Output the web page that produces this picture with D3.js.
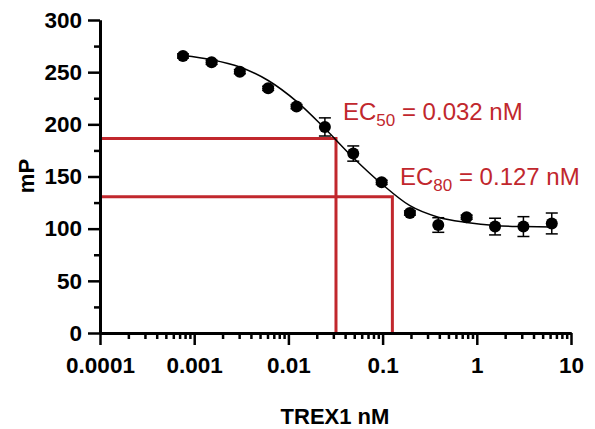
<!DOCTYPE html>
<html>
<head>
<meta charset="utf-8">
<script src="https://cdn.jsdelivr.net/npm/d3@7"></script>
<style>
  body { margin: 0; background: #fff; }
  svg { display: block; font-family: Arial, "Liberation Sans", Helvetica, sans-serif; }
</style>
</head>
<body>
<div id="chart"></div>
<script>
// Concentraciones (nM), diluciones 1:2
const conc = [0.00076, 0.00153, 0.00305, 0.0061, 0.0122, 0.0244, 0.0488, 0.0977, 0.195, 0.39, 0.78, 1.5625, 3.125, 6.25];
// mP medidos (media) y desviación
const mP = [265.5, 259.5, 250.5, 234.5, 217, 197.5, 172, 144.4, 115, 103.5, 111, 102, 102, 105];
const sd = [2, 2, 2, 2, 2, 8.7, 7.3, 2, 2, 7, 2, 8, 9.5, 10];
// Curva ajustada (en las mismas concentraciones)
const fitY = [266, 262, 255, 242, 222, 196, 168, 143, 122, 111, 106, 103, 102, 101.5];

// Líneas EC
const ecX = [0.032, 0.127];
const ecY = [186.5, 130.5];
const ecSub = ["50", "80"];
const ecVal = ["0.032", "0.127"];

const xTicks = [0.0001, 0.001, 0.01, 0.1, 1, 10];
const xTickLabels = ["0.0001", "0.001", "0.01", "0.1", "1", "10"];
const yTicks = [0, 50, 100, 150, 200, 250, 300];
const yMinor = [25, 75, 125, 175, 225, 275];

const W = 595, H = 429;
const red = "#c1272d";

const svg = d3.select("#chart").append("svg")
  .attr("width", W).attr("height", H);

const x = d3.scaleLog().domain([0.0001, 10]).range([100, 571]);
const y = d3.scaleLinear().domain([0, 300]).range([333, 20]);

// ticks menores del eje x (2..9 de cada década)
const xMinor = [];
xTicks.slice(0, -1).forEach(t => {
  for (let k = 2; k <= 9; k++) xMinor.push(t * k);
});

// Líneas EC (rojo) - debajo de los datos
ecX.forEach((ex, i) => {
  svg.append("path")
    .attr("fill", "none")
    .attr("stroke", red)
    .attr("stroke-width", 3)
    .attr("d", `M${x(0.0001)},${y(ecY[i])}H${x(ex)}V${y(0)}`);
});

// Eje X
const gx = svg.append("g").attr("transform", `translate(0,${y(0)})`);
gx.call(d3.axisBottom(x).tickValues(xMinor).tickSize(6).tickSizeOuter(0).tickFormat(""));
gx.call(g => g.selectAll(".tick line").attr("stroke-width", 2.5));
const gxMaj = svg.append("g").attr("transform", `translate(0,${y(0)})`)
  .call(d3.axisBottom(x).tickValues(xTicks).tickSize(12).tickSizeOuter(0).tickPadding(12)
    .tickFormat((d, i) => xTickLabels[i]));
gxMaj.selectAll(".tick line").attr("stroke-width", 2.5);
gxMaj.selectAll("text").attr("font-size", 22.5).attr("font-weight", "bold")
  .attr("font-family", "Arial, 'Liberation Sans', sans-serif").attr("fill", "#000");

// Eje Y
const gyMin = svg.append("g").attr("transform", `translate(${x(0.0001)},0)`)
  .call(d3.axisLeft(y).tickValues(yMinor).tickSize(6).tickSizeOuter(0).tickFormat(""));
gyMin.selectAll(".tick line").attr("stroke-width", 2.5);
const gy = svg.append("g").attr("transform", `translate(${x(0.0001)},0)`)
  .call(d3.axisLeft(y).tickValues(yTicks).tickSize(12).tickSizeOuter(0).tickPadding(6));
gy.selectAll(".tick line").attr("stroke-width", 2.5);
gy.selectAll("text").attr("font-size", 22.5).attr("font-weight", "bold")
  .attr("font-family", "Arial, 'Liberation Sans', sans-serif").attr("fill", "#000");
svg.selectAll(".domain").attr("stroke-width", 3).attr("stroke", "#000");

// Curva ajustada
const fitData = conc.map((c, i) => ({ c, v: fitY[i] }));
svg.append("path")
  .datum(fitData)
  .attr("fill", "none")
  .attr("stroke", "#000")
  .attr("stroke-width", 1.5)
  .attr("d", d3.line().x(d => x(d.c)).y(d => y(d.v)).curve(d3.curveMonotoneX));

// Barras de error
const pts = conc.map((c, i) => ({ c, v: mP[i], e: sd[i] }));
const eb = svg.append("g").attr("stroke", "#000").attr("stroke-width", 1.5);
pts.forEach(d => {
  const cx = x(d.c);
  eb.append("line").attr("x1", cx).attr("x2", cx).attr("y1", y(d.v - d.e)).attr("y2", y(d.v + d.e));
  [d.v - d.e, d.v + d.e].forEach(v => {
    eb.append("line").attr("x1", cx - 6).attr("x2", cx + 6).attr("y1", y(v)).attr("y2", y(v));
  });
});

// Puntos
svg.append("g").selectAll("circle")
  .data(pts)
  .enter()
  .append("circle")
  .attr("cx", d => x(d.c))
  .attr("cy", d => y(d.v))
  .attr("r", 6)
  .attr("fill", "#000");

// Etiquetas EC
const labelPos = [[343, 120], [400, 185]];
ecX.forEach((ex, i) => {
  const t = svg.append("text")
    .attr("x", labelPos[i][0])
    .attr("y", labelPos[i][1])
    .attr("fill", red)
    .attr("font-size", 24);
  t.append("tspan").text("EC");
  t.append("tspan").attr("font-size", 17).attr("dy", 6).text(ecSub[i]);
  t.append("tspan").attr("dy", -6).text(` = ${ecVal[i]} nM`);
});

// Títulos de ejes
svg.append("text")
  .attr("transform", `translate(34,176) rotate(-90)`)
  .attr("text-anchor", "middle")
  .attr("font-size", 22)
  .attr("font-weight", "bold")
  .text("mP");

svg.append("text")
  .attr("x", 335)
  .attr("y", 424)
  .attr("text-anchor", "middle")
  .attr("font-size", 22)
  .attr("font-weight", "bold")
  .text("TREX1 nM");
</script>
</body>
</html>
